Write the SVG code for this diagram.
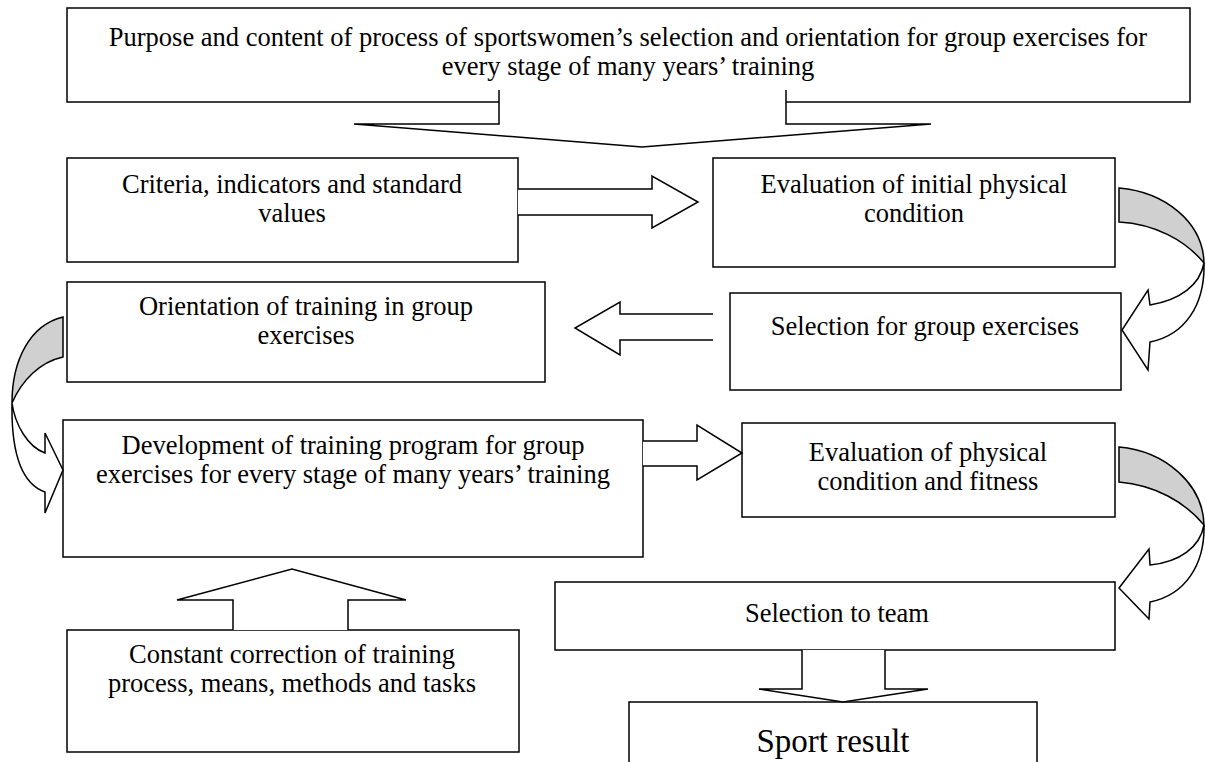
<svg xmlns="http://www.w3.org/2000/svg" width="1205" height="762" viewBox="0 0 1205 762">
<style>
.box{fill:#fff;stroke:#000;stroke-width:1.5}
.arr{fill:#fff;stroke:#000;stroke-width:1.5;stroke-linejoin:miter}
.gray{fill:#d0d0d0;stroke:#000;stroke-width:1.5}
text{font-family:"Liberation Serif","Times New Roman",serif;font-size:26.5px;fill:#000;text-anchor:middle}
.big{font-size:33px}
</style>
<rect width="1205" height="762" fill="#fff"/>
<g id="n_purpose">
<rect class="box" x="67" y="8" width="1123" height="94"/>
<text x="628" y="46">Purpose and content of process of sportswomen’s selection and orientation for group exercises for</text>
<text x="628" y="75">every stage of many years’ training</text>
</g>
<g id="connectors">
<path class="arr" d="M499,90 L499,124 L354,124 L642,147 L931,124 L786,124 L786,90"/>
</g>
<g id="n_criteria">
<rect class="box" x="67" y="158" width="451" height="104"/>
<text x="292" y="193">Criteria, indicators and standard</text>
<text x="292" y="222">values</text>
</g>
<g id="n_eval_initial">
<rect class="box" x="713" y="158" width="402" height="109"/>
<text x="914" y="193">Evaluation of initial physical</text>
<text x="914" y="222">condition</text>
</g>
<g id="n_orientation">
<rect class="box" x="67" y="282" width="478" height="100"/>
<text x="306" y="315">Orientation of training in group</text>
<text x="306" y="344">exercises</text>
</g>
<g id="n_selection_group">
<rect class="box" x="730" y="293" width="391" height="97"/>
<text x="925" y="335">Selection for group exercises</text>
</g>
<g id="n_development">
<rect class="box" x="63" y="420" width="580" height="137"/>
<text x="353" y="454">Development of training program for group</text>
<text x="353" y="483">exercises for every stage of many years’ training</text>
</g>
<g id="n_eval_physical">
<rect class="box" x="742" y="423" width="373" height="94"/>
<text x="928" y="461">Evaluation of physical</text>
<text x="928" y="490">condition and fitness</text>
</g>
<g id="n_selection_team">
<rect class="box" x="555" y="582" width="560" height="68"/>
<text x="837" y="622">Selection to team</text>
</g>
<g id="n_correction">
<rect class="box" x="67" y="630" width="452" height="122"/>
<text x="292" y="663">Constant correction of training</text>
<text x="292" y="692">process, means, methods and tasks</text>
</g>
<g id="n_sport_result">
<rect class="box" x="629" y="702" width="408" height="70"/>
<text class="big" x="833" y="752">Sport result</text>
</g>
<g id="connectors2">
<path class="arr" d="M518,189 L652,189 L652,176 L698,202 L652,228 L652,215 L518,215"/>
<path class="arr" d="M713,314 L620,314 L620,302 L575,328 L620,355 L620,340 L713,340"/>
<path class="arr" d="M643,441 L697,441 L697,425 L742,453 L697,480 L697,466 L643,466"/>
<path class="arr" d="M233,630 L233,600 L177,600 L292,569 L406,600 L348,600 L348,630"/>
<path class="arr" d="M802,650 L802,689 L759,689 L843,702 L928,689 L885,689 L885,650"/>
<path class="gray" d="M1119,188 C1165,192 1203,222 1204,263 C1185,240 1155,224 1119,222 Z"/>
<path class="arr" d="M1204,263 C1200,285 1180,300 1150,305 L1148,290 L1122,330 L1148,370 L1150,342 C1185,335 1205,305 1204,263 Z"/>
<path class="gray" d="M1119,447 C1165,451 1203,484 1204,525 C1185,502 1155,485 1119,482 Z"/>
<path class="arr" d="M1204,525 C1200,547 1180,562 1150,565 L1149,549 L1119,588 L1149,619 L1150,602 C1185,595 1205,565 1204,525 Z"/>
<path class="gray" d="M63,317 C30,325 12,360 12,403 C22,380 40,362 63,357 Z"/>
<path class="arr" d="M12,403 C15,425 28,447 45,453 L45,433 L63,470 L45,513 L45,492 C25,485 11,460 12,403 Z"/>
</g>
</svg>
